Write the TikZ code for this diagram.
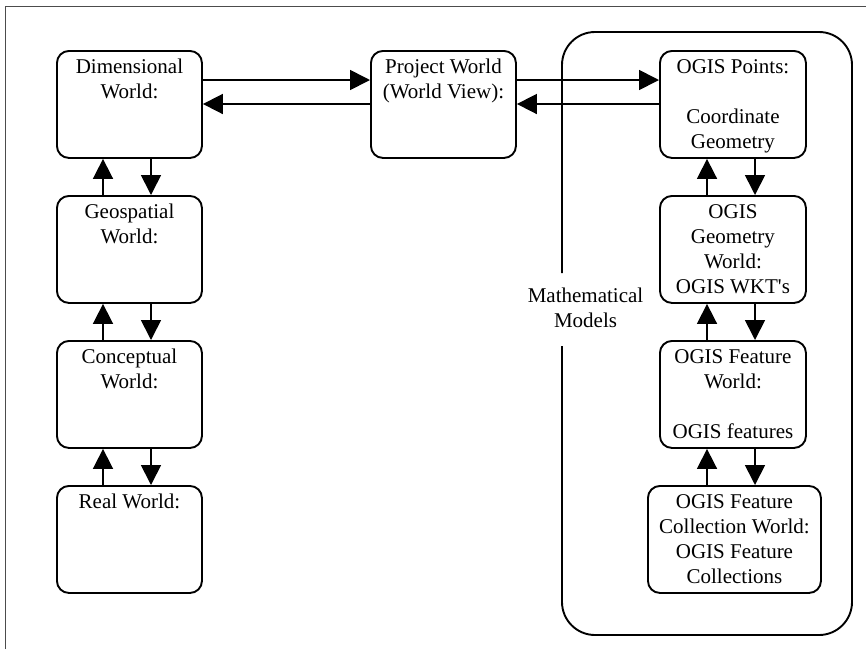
\documentclass[tikz,border=0pt]{standalone}
\usepackage{fontspec}
\setmainfont{Liberation Serif}
\usetikzlibrary{arrows.meta}

% box text: fixed-size top-aligned block, first baseline 23pt below the top
\newcommand\wtext[2]{\parbox[t][107pt][t]{#1}{\centering\rule{0pt}{23pt}#2}}

\begin{document}
\begin{tikzpicture}[x=1pt,y=-1pt,
  font=\fontsize{21}{25}\selectfont,
  wbox/.style={draw, line width=1.9pt, rounded corners=12pt, inner sep=0pt, anchor=north west},
  arr/.style={line width=1.7pt, -{Triangle[length=20pt,width=20pt]}},
  frameline/.style={draw=black!70, line width=1.3pt},
  encl/.style={line width=1.9pt, rounded corners=33pt}]

\useasboundingbox (0,0) rectangle (866,649);

% page frame (open to the right and bottom)
\draw[frameline] (5.5,649) -- (5.5,6.5) -- (866,6.5);

% left column
\node[wbox] (dim)  at (56,50)  {\wtext{145pt}{Dimensional\\World:}};
\node[wbox] (geo)  at (56,195) {\wtext{145pt}{Geospatial\\World:}};
\node[wbox] (conc) at (56,340) {\wtext{145pt}{Conceptual\\World:}};
\node[wbox] (real) at (56,485) {\wtext{145pt}{Real World:}};

% project world
\node[wbox] (proj) at (370,50) {\wtext{145pt}{Project World\\(World View):}};

% right column
\node[wbox] (pts)  at (659,50)  {\wtext{146pt}{OGIS Points:\\[25pt]Coordinate\\Geometry}};
\node[wbox] (geom) at (659,195) {\wtext{146pt}{OGIS\\Geometry\\World:\\OGIS WKT\textquotesingle s}};
\node[wbox] (feat) at (659,340) {\wtext{146pt}{OGIS Feature\\World:\\[25pt]OGIS features}};
\node[wbox] (coll) at (647,485) {\wtext{173pt}{OGIS Feature\\Collection World:\\OGIS Feature\\Collections}};

% mathematical models enclosure, broken for its label
\draw[encl] (562,346) -- (562,635) -- (852,635) -- (852,32) -- (562,32) -- (562,273);
\node[anchor=north, inner sep=0pt, align=center] (math) at (585.5,288) {Mathematical\\Models};

% guide coordinates for connector positions
\coordinate (upL) at (103,0);
\coordinate (dnL) at (151,0);
\coordinate (upR) at (707,0);
\coordinate (dnR) at (755,0);
\coordinate (hTop) at (0,80);
\coordinate (hBot) at (0,104);

% vertical connectors, left column
\draw[arr] (geo.north -| upL)  -- (dim.south -| upL);
\draw[arr] (dim.south -| dnL)  -- (geo.north -| dnL);
\draw[arr] (conc.north -| upL) -- (geo.south -| upL);
\draw[arr] (geo.south -| dnL)  -- (conc.north -| dnL);
\draw[arr] (real.north -| upL) -- (conc.south -| upL);
\draw[arr] (conc.south -| dnL) -- (real.north -| dnL);

% vertical connectors, right column
\draw[arr] (geom.north -| upR) -- (pts.south -| upR);
\draw[arr] (pts.south -| dnR)  -- (geom.north -| dnR);
\draw[arr] (feat.north -| upR) -- (geom.south -| upR);
\draw[arr] (geom.south -| dnR) -- (feat.north -| dnR);
\draw[arr] (coll.north -| upR) -- (feat.south -| upR);
\draw[arr] (feat.south -| dnR) -- (coll.north -| dnR);

% horizontal connectors
\draw[arr] (dim.east |- hTop)  -- (proj.west |- hTop);
\draw[arr] (proj.west |- hBot) -- (dim.east |- hBot);
\draw[arr] (proj.east |- hTop) -- (pts.west |- hTop);
\draw[arr] (pts.west |- hBot)  -- (proj.east |- hBot);

\end{tikzpicture}
\end{document}
